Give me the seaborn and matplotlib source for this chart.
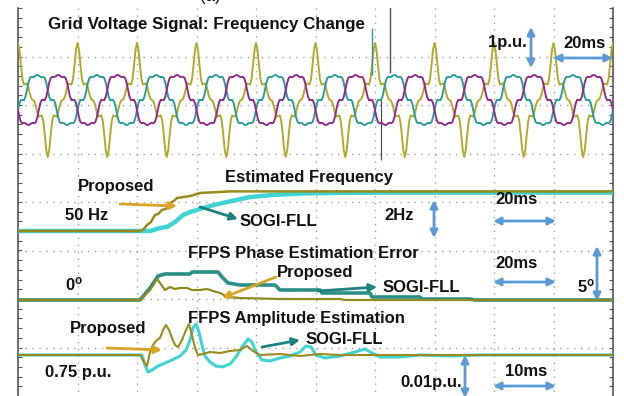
import numpy as np
import matplotlib
matplotlib.use("Agg")
import matplotlib.pyplot as plt
from matplotlib.patches import FancyArrowPatch
import seaborn as sns

# ---------------------------------------------------------------- data
# one fundamental period (20 ms, 0.5 ms steps) of the grid voltages, p.u.
phase_a_period = [1.5, 1.321, 0.915, 0.552, 0.405, 0.424, 0.434, 0.326, 0.155, 0.033,
                  0.0, -0.033, -0.155, -0.326, -0.434, -0.424, -0.405, -0.552, -0.915, -1.321,
                  -1.5, -1.321, -0.915, -0.552, -0.405, -0.424, -0.434, -0.326, -0.155, -0.033,
                  0.0, 0.033, 0.155, 0.326, 0.434, 0.424, 0.405, 0.552, 0.915, 1.321]
phase_bc_period = [0.66, 0.643, 0.611, 0.603, 0.612, 0.580, 0.457, 0.262, 0.082, -0.004,
                   0.0, 0.004, -0.082, -0.262, -0.457, -0.580, -0.612, -0.603, -0.611, -0.643,
                   -0.66, -0.643, -0.611, -0.603, -0.612, -0.580, -0.457, -0.262, -0.082, 0.004,
                   0.0, -0.004, 0.082, 0.262, 0.457, 0.580, 0.612, 0.603, 0.611, 0.643]
n_periods = 10
sample_ms = 0.5
bc_shift = 13          # samples between phases (about 120 degrees)
cursor_ms = [119.0, 125.0, 122.0]

# estimated frequency, Hz
freq_prop_t = [0, 41.0, 42.3, 43.4, 44.7, 46.0, 47.1, 48.4, 49.7, 51.1, 52.4, 53.4,
               55.5, 57.8, 61.2, 71.3, 200]
freq_prop = [50.0, 50.0, 50.10, 50.31, 50.46, 50.82, 50.87, 51.08, 51.13, 51.44, 51.54,
             51.69, 51.74, 51.79, 51.95, 52.03, 52.03]
freq_sogi_t = [0, 42.0, 44.4, 47.7, 50.1, 52.8, 55.5, 57.8, 60.2, 64.5, 70.3, 78.0,
               85.7, 94.8, 104.9, 121.7, 200]
freq_sogi = [50.0, 50.0, 50.0, 50.15, 50.21, 50.46, 50.82, 50.97, 51.08, 51.28, 51.49,
             51.74, 51.85, 51.92, 51.95, 51.97, 51.97]

# FFPS phase estimation error, degrees
phase_prop_t = [0, 41.0, 44.37, 46.72, 47.73, 49.41, 51.09, 52.77, 54.45, 56.81, 58.49,
                61.18, 63.53, 65.55, 67.90, 69.24, 70.59, 74.62, 88.07, 108.24, 109.92, 200]
phase_prop = [0, 0, 1.0, 2.1, 1.7, 1.0, 1.3, 1.1, 1.2, 1.2, 1.0,
              1.0, 1.1, 0.9, 0.7, 0.5, 0.3, 0.2, 0.1, 0.1, 0, 0]
phase_sogi_t = [0, 41.0, 44.37, 47.06, 49.41, 52.77, 57.82, 58.49, 67.23, 68.57, 70.59,
                74.62, 86.39, 88.07, 101.51, 102.18, 118.32, 118.99, 135.13, 135.80,
                151.93, 153.61, 200]
phase_sogi = [0, 0, 1.2, 2.4, 2.6, 2.6, 2.6, 2.8, 2.8, 2.3, 1.7,
              1.5, 1.5, 1.0, 1.0, 0.7, 0.7, 0.3, 0.3, 0.1,
              0.1, 0, 0]

# FFPS amplitude estimation, p.u.
amp_prop_t = [0, 20.50, 21.18, 21.68, 22.19, 22.69, 23.36, 23.87, 24.37, 24.87, 25.38,
              25.88, 26.39, 26.89, 27.56, 28.24, 28.74, 29.24, 29.75, 30.25, 31.09,
              32.27, 33.95, 35.63, 37.31, 38.49, 39.50, 40.67, 44.03, 47.39, 50.76,
              54.12, 100]
amp_prop = [0.75, 0.75, 0.74825, 0.74725, 0.75075, 0.7525, 0.75375, 0.75425, 0.75625,
            0.7575, 0.75625, 0.75425, 0.7525, 0.752, 0.75375, 0.75625, 0.75775, 0.755,
            0.75175, 0.75, 0.75025, 0.75075, 0.7505, 0.751, 0.75125, 0.75225, 0.751,
            0.75, 0.75025, 0.74975, 0.75025, 0.75, 0.75]
amp_sogi_t = [0, 20.84, 21.34, 21.85, 22.52, 23.53, 24.71, 25.88, 27.23, 28.24, 28.91,
              29.41, 29.92, 30.42, 30.92, 31.43, 32.27, 33.28, 34.29, 35.63, 36.64,
              37.65, 38.66, 39.33, 40.0, 41.01, 42.35, 44.03, 45.71, 47.39, 48.40,
              49.24, 50.08, 51.60, 54.12, 56.64, 58.32, 59.50, 60.84, 64.20, 67.56,
              72.61, 77.65, 100]
amp_sogi = [0.75, 0.75, 0.7475, 0.74575, 0.74625, 0.74725, 0.748, 0.74875, 0.74975,
            0.75125, 0.75375, 0.75675, 0.75775, 0.75575, 0.7525, 0.74975, 0.74825,
            0.74725, 0.747, 0.74775, 0.7495, 0.752, 0.754, 0.75325, 0.75075, 0.74875,
            0.7485, 0.74925, 0.74975, 0.75075, 0.75225, 0.752, 0.75, 0.74925, 0.74975,
            0.75075, 0.7515, 0.7505, 0.7495, 0.7495, 0.75, 0.74975, 0.75, 0.75]

# ---------------------------------------------------------------- style
sns.set_theme(style="white")
plt.rcParams["font.family"] = ["Liberation Sans", "DejaVu Sans"]
plt.rcParams["mathtext.fontset"] = "custom"
plt.rcParams["mathtext.bf"] = "Liberation Sans:bold"
plt.rcParams["mathtext.rm"] = "Liberation Sans"

W, H = 624, 396
fig = plt.figure(figsize=(W / 100, H / 100), dpi=100, facecolor="white")

# scope screen in pixels
S_L, S_R, S_T, S_B = 18, 613, 8, 396
SCREEN = [S_L / W, 1 - S_B / H, (S_R - S_L) / W, (S_B - S_T) / H]


def span(center_px, center_val, px_per_unit):
    """y-limits so that center_val sits at pixel row center_px."""
    return (center_val - (S_B - center_px) / px_per_unit,
            center_val + (center_px - S_T) / px_per_unit)


# ---------------------------------------------------------------- screen grid
grid = fig.add_axes(SCREEN, facecolor="white")
grid.set_xlim(0, 10)
grid.set_ylim(S_B, S_T)
grid.vlines(np.arange(1, 10), S_T, S_B, colors="#a0a0a0", lw=1.0,
            linestyles=(0, (1, 4)))
grid.hlines(np.linspace(S_T, S_B, 9)[1:-1], 0, 10, colors="#a0a0a0", lw=1.0,
            linestyles=(0, (1, 4)))
for side in ("top", "bottom"):
    grid.spines[side].set_visible(False)
for side in ("left", "right"):
    grid.spines[side].set_color("#555555")
    grid.spines[side].set_linewidth(1.2)
grid.set_xticks([])
grid.set_yticks(np.linspace(S_T, S_B, 41))
grid.tick_params(axis="y", direction="in", length=3, width=0.8, color="#555555",
                 left=True, right=True, labelleft=False, labelright=False)
grid.grid(False)


def overlay(xlim, ylim):
    ax = fig.add_axes(SCREEN, facecolor="none")
    ax.set_axis_off()
    ax._lims = (xlim, ylim)
    return ax


def finish(ax):
    xlim, ylim = ax._lims
    ax.set_xlim(*xlim)
    ax.set_ylim(*ylim)


def trace(ax, x, y, color, lw):
    sns.lineplot(x=x, y=y, ax=ax, color=color, linewidth=lw, estimator=None,
                 sort=False, legend=False)


# ---------------------------------------------------------------- grid voltages
t_v = np.arange(n_periods * len(phase_a_period) + 1) * sample_ms
va = np.tile(phase_a_period, n_periods + 1)[: len(t_v)]
vb = np.tile(np.roll(phase_bc_period, bc_shift), n_periods + 1)[: len(t_v)]
vc = np.tile(np.roll(phase_bc_period, -bc_shift), n_periods + 1)[: len(t_v)]

ax_v = overlay((0, 200), span(100, 0.0, 38))
trace(ax_v, t_v, va, "#b2aa2c", 1.4)
trace(ax_v, t_v, vb, "#2b9c9a", 1.4)
trace(ax_v, t_v, vc, "#922c8a", 1.4)
ax_v.vlines(cursor_ms[0], 0.66, 1.89, colors="#3a8fa0", lw=1.0)
ax_v.vlines(cursor_ms[1], 0.7, 2.5, colors="#6a3a6a", lw=1.0)
ax_v.vlines(cursor_ms[2], -1.58, 0.0, colors="#444444", lw=0.8)
finish(ax_v)

# ---------------------------------------------------------------- frequency
ax_f = overlay((0, 200), span(231, 50.0, 19.5))
trace(ax_f, freq_sogi_t, freq_sogi, "#3fd3d3", 3.2)
trace(ax_f, freq_prop_t, freq_prop, "#998a1c", 1.8)
finish(ax_f)

# ---------------------------------------------------------------- phase error
ax_p = overlay((0, 200), span(300, 0.0, 10.0))
trace(ax_p, phase_sogi_t, phase_sogi, "#2a8f86", 2.6)
trace(ax_p, phase_prop_t, phase_prop, "#8e8a1f", 1.6)
finish(ax_p)

# ---------------------------------------------------------------- amplitude
ax_a = overlay((0, 100), span(355, 0.75, 4000.0))
trace(ax_a, amp_sogi_t, amp_sogi, "#3fd3d3", 2.2)
trace(ax_a, amp_prop_t, amp_prop, "#9c8a1e", 1.5)
finish(ax_a)

# ---------------------------------------------------------------- labels
def fx(px):
    return px / W


def fy(py):
    return 1 - py / H


def label(px, py, s, size=12, weight="bold", ha="left"):
    fig.text(fx(px), fy(py), s, ha=ha, va="center", fontsize=size,
             fontweight=weight, color="#111111")


def arrow(p0, p1, color, style="-|>", lw=2.0, ms=11):
    fig.add_artist(FancyArrowPatch((fx(p0[0]), fy(p0[1])), (fx(p1[0]), fy(p1[1])),
                                   transform=fig.transFigure, arrowstyle=style,
                                   mutation_scale=ms, lw=lw, color=color,
                                   shrinkA=0, shrinkB=0))


BLUE = "#5b9bd5"
GOLD = "#d9a424"
TEAL = "#1f8080"

label(210, -3, "(a)", size=12, weight="normal", ha="center")

label(48, 25, "Grid Voltage Signal: Frequency Change", size=12.2)
label(488, 42, "1p.u.")
arrow((531, 27), (531, 68), BLUE, "<|-|>")
label(563, 43, "20ms")
arrow((553, 58), (613, 58), BLUE, "<|-|>")

label(225, 177, "Estimated Frequency")
label(78, 187, "Proposed")
arrow((120, 204), (177, 206), GOLD)
label(65, 216, "50 Hz")
label(240, 221, "SOGI-FLL")
arrow((200, 207), (238, 219), TEAL)
label(384, 215, "2Hz")
arrow((434, 200), (434, 238), BLUE, "<|-|>")
label(495, 200, "20ms")
arrow((493, 221), (556, 221), BLUE, "<|-|>")

label(188, 254, "FFPS Phase Estimation Error")
label(65, 284, r"$\mathbf{0^{o}}$")
label(277, 273, "Proposed")
arrow((276, 277), (222, 298), GOLD)
label(383, 287, "SOGI-FLL")
arrow((318, 291), (377, 287), TEAL)
label(495, 263, "20ms")
arrow((493, 282), (556, 282), BLUE, "<|-|>")
label(577, 286, r"$\mathbf{5^{o}}$")
arrow((597, 246), (597, 301), BLUE, "<|-|>")

label(188, 318, "FFPS Amplitude Estimation")
label(70, 328, "Proposed")
arrow((107, 348), (162, 350), GOLD)
label(306, 340, "SOGI-FLL")
arrow((262, 347), (300, 340), TEAL)
label(45, 373, "0.75 p.u.")
label(400, 383, "0.01p.u.")
arrow((465, 355), (465, 398), BLUE, "<|-|>")
label(505, 371, "10ms")
arrow((493, 386), (556, 386), BLUE, "<|-|>")

fig.savefig("out.png", dpi=100, facecolor="white")
